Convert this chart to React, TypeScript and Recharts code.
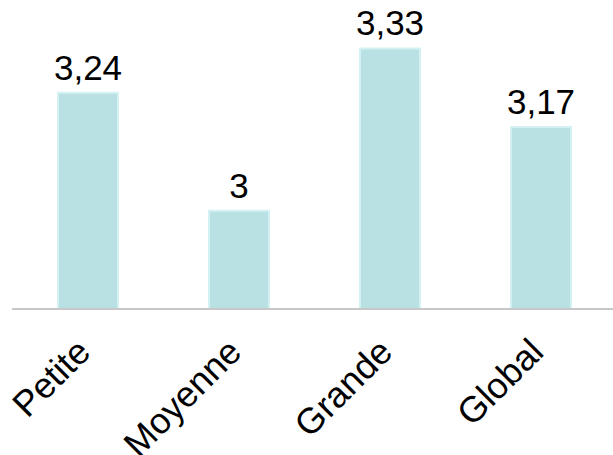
import React from 'react';
import { BarChart, Bar, XAxis, YAxis, LabelList } from 'recharts';

const categories = ['Petite', 'Moyenne', 'Grande', 'Global'];
const scores = [3.24, 3, 3.33, 3.17];

const data = categories.map((name, i) => ({ name, value: scores[i] }));

const formatFr = (v: number) => String(v).replace('.', ',');

const AngledTick = (props: any) => {
  const { x, y, payload } = props;
  const ax = x + 5;
  const ay = y + 37;
  return (
    <text
      x={ax}
      y={ay}
      transform={`rotate(-45, ${ax}, ${ay})`}
      textAnchor="end"
      fill="#000"
      fontSize={36}
      fontFamily="'Liberation Sans', Arial, sans-serif"
    >
      {payload.value}
    </text>
  );
};

const App: React.FC = () => {
  return (
    <div style={{ position: 'absolute', left: 0, top: 0, width: 613, height: 455, overflow: 'hidden', background: '#fff' }}>
      <BarChart
        width={620}
        height={455}
        data={data}
        margin={{ top: 14, right: 4, bottom: 0, left: 12 }}
        barSize={60}
      >
        <XAxis
          dataKey="name"
          height={146}
          interval={0}
          tickLine={false}
          axisLine={{ stroke: '#c8c8c8', strokeWidth: 2 }}
          tick={<AngledTick />}
        />
        <YAxis hide domain={[2.8, 3.4]} allowDataOverflow />
        <Bar dataKey="value" fill="#b9e0e3" stroke="#d3f1f2" strokeWidth={2} isAnimationActive={false}>
          <LabelList
            dataKey="value"
            position="top"
            offset={13}
            formatter={(v: any) => formatFr(v)}
            fill="#000"
            fontSize={35}
            fontFamily="'Liberation Sans', Arial, sans-serif"
          />
        </Bar>
      </BarChart>
    </div>
  );
};

export default App;
